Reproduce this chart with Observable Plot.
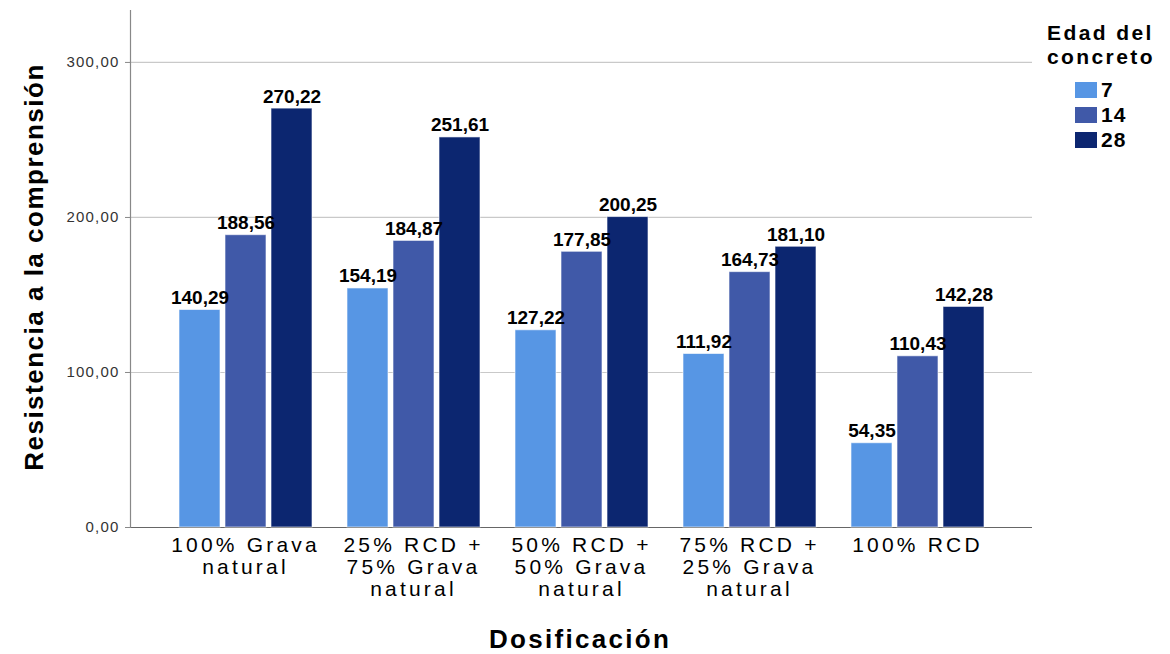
<!DOCTYPE html>
<html><head><meta charset="utf-8">
<script src="https://cdn.jsdelivr.net/npm/d3@7"></script>
<script src="https://cdn.jsdelivr.net/npm/@observablehq/plot@0.6"></script>
<style>
body{margin:0;background:#fff;}
#wrap{position:relative;width:1170px;height:654px;overflow:hidden;font-family:"Liberation Sans",Arial,sans-serif;color:#000;}
.layer{position:absolute;left:0;top:0;}
.layer svg{display:block;}
g[aria-label="fx-axis tick label"] text{letter-spacing:3.2px;}
g[aria-label="y-axis tick label"] text{letter-spacing:1.2px;}
g[aria-label="etiquetas"] text{letter-spacing:0.6px;}
.ylab{position:absolute;left:-216px;top:252px;width:500px;height:30px;line-height:30px;text-align:center;transform:rotate(-90deg);transform-origin:50% 50%;font-size:26px;font-weight:bold;letter-spacing:1.5px;white-space:nowrap;}
.xlab{position:absolute;left:330px;top:628px;width:500px;height:22px;line-height:22px;text-align:center;font-size:26px;font-weight:bold;letter-spacing:2.3px;white-space:nowrap;}
.legend{position:absolute;left:1047px;top:21px;}
.legend .title div{font-size:21px;font-weight:bold;height:23.5px;line-height:23.5px;letter-spacing:2.4px;white-space:nowrap;}
.legend .rows{position:absolute;left:28px;top:56px;}
.legend .row{display:flex;align-items:center;height:25px;}
.legend .sw{width:22px;height:16px;margin-right:4px;}
.legend .lb{font-size:21px;font-weight:bold;letter-spacing:1px;line-height:24px;}
</style>
</head><body>
<div id="wrap">
  <div class="layer" id="fondo"></div>
  <div class="layer" id="barras"></div>
  <div class="ylab">Resistencia a la comprensión</div>
  <div class="xlab">Dosificación</div>
  <div class="legend" id="legend"></div>
</div>
<script>
const dosificaciones = ["100% Grava natural", "25% RCD + 75% Grava natural", "50% RCD + 50% Grava natural", "75% RCD + 25% Grava natural", "100% RCD"];
const etiquetasX = ["100% Grava\nnatural", "25% RCD +\n75% Grava\nnatural", "50% RCD +\n50% Grava\nnatural", "75% RCD +\n25% Grava\nnatural", "100% RCD"];
const edades = ["7", "14", "28"];
const edad7 = [140.29, 154.19, 127.22, 111.92, 54.35];
const edad14 = [188.56, 184.87, 177.85, 164.73, 110.43];
const edad28 = [270.22, 251.61, 200.25, 181.10, 142.28];
const yTicks = [0, 100, 200, 300];
const colores = ["#5796e4", "#4059a8", "#0c2670"];
const tituloLeyenda = ["Edad del", "concreto"];

const series = [edad7, edad14, edad28];
const data = dosificaciones.flatMap((d, i) => edades.map((e, j) => ({dosificacion: d, edad: e, valor: series[j][i]})));
const fmt = v => v.toFixed(2).replace(".", ",");

const base = {
  width: 1170, height: 654,
  marginLeft: 130, marginRight: 138, marginTop: 10, marginBottom: 127,
  style: {fontFamily: "Liberation Sans, Arial, sans-serif", background: "transparent", overflow: "visible"},
  y: {domain: [0, 333.5], axis: null}
};

// Capa de fondo: rejilla, ejes y marcas del eje Y
const fondo = Plot.plot({
  ...base,
  marks: [
    Plot.ruleY(yTicks.slice(1), {stroke: "#c9c9c9", strokeWidth: 1.2}),
    Plot.ruleY([0], {stroke: "#666", strokeWidth: 1.2}),
    Plot.frame({anchor: "left", stroke: "#888", strokeWidth: 1.2}),
    Plot.axisY({ticks: yTicks, tickFormat: fmt, tickSize: 5, tickPadding: 6, fontSize: 15, label: null, color: "#333", stroke: "#888"})
  ]
});
document.getElementById("fondo").appendChild(fondo);

// Capa de barras agrupadas por dosificación
const barras = Plot.plot({
  ...base,
  fx: {domain: dosificaciones, paddingInner: 0.205, paddingOuter: 0.2745, label: null},
  x: {domain: edades, axis: null, paddingInner: 0.116, paddingOuter: 0},
  color: {domain: edades, range: colores},
  marks: [
    Plot.barY(data, {fx: "dosificacion", x: "edad", y: "valor", fill: "edad", stroke: "#ffffff", strokeOpacity: 0.6, strokeWidth: 1}),
    Plot.text(data, {fx: "dosificacion", x: "edad", y: "valor", text: d => fmt(d.valor), lineAnchor: "bottom", dy: -6, fontWeight: "bold", fontSize: 19, fill: "#000", ariaLabel: "etiquetas"}),
    Plot.axisFx({anchor: "bottom", tickSize: 0, tickPadding: 9, fontSize: 21, lineHeight: 1.05, label: null, tickFormat: d => etiquetasX[dosificaciones.indexOf(d)], fill: "#000"})
  ]
});
document.getElementById("barras").appendChild(barras);

const leg = document.getElementById("legend");
leg.innerHTML = `<div class="title">${tituloLeyenda.map(t => `<div>${t}</div>`).join("")}</div><div class="rows">` +
  edades.map((e, i) => `<div class="row"><div class="sw" style="background:${colores[i]}"></div><div class="lb">${e}</div></div>`).join("") + `</div>`;
</script>
</body></html>
